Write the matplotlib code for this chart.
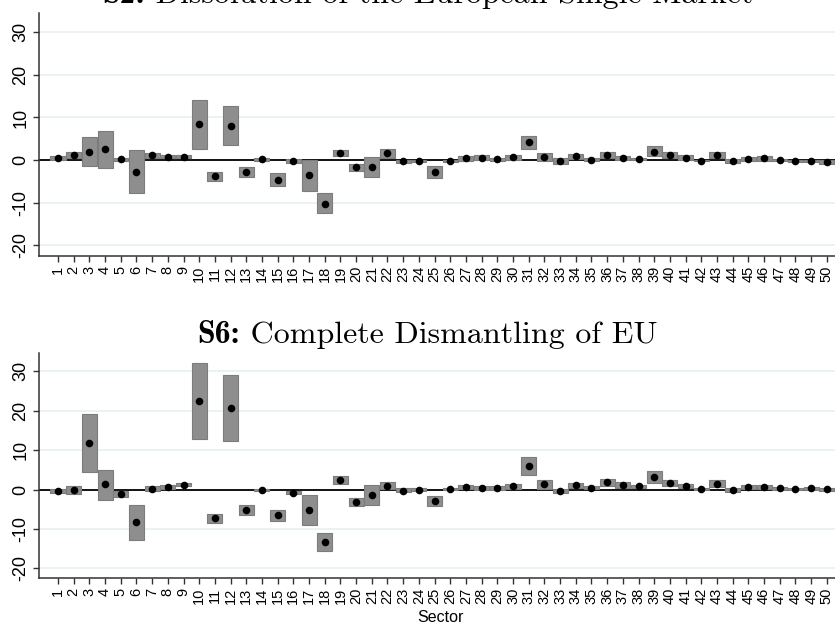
import numpy as np
import matplotlib.pyplot as plt

plt.rcParams['font.family'] = ['Liberation Sans', 'DejaVu Sans']

sectors = np.arange(1, 51)

# S2: point estimate and interval bounds per sector
est_s2 = [0.5, 1.2, 1.9, 2.5, 0.25, -2.8, 1.2, 0.8, 0.8, 8.4,
          -3.8, 8.1, -2.8, 0.3, -4.6, -0.2, -3.6, -10.2, 1.7, -1.6,
          -1.7, 1.7, -0.3, -0.2, -2.9, -0.2, 0.5, 0.6, 0.25, 0.65,
          4.15, 0.7, -0.2, 0.9, 0.1, 1.2, 0.5, 0.25, 2.0, 1.2,
          0.55, -0.1, 1.2, -0.15, 0.25, 0.4, 0.0, -0.2, -0.15, -0.45]
lo_s2 = [0.0, 0.5, -1.4, -1.9, -0.3, -7.7, 0.6, 0.5, 0.5, 2.7,
         -5.0, 3.6, -3.9, -0.15, -6.1, -0.6, -7.2, -12.5, 0.9, -2.5,
         -4.0, 0.6, -0.7, -0.4, -4.1, -0.4, -0.15, 0.0, -0.15, 0.1,
         2.5, -0.3, -0.9, 0.3, -0.2, 0.5, 0.1, 0.0, 0.9, 0.5,
         0.0, -0.3, 0.5, -0.6, -0.15, -0.15, -0.2, -0.4, -0.35, -0.9]
hi_s2 = [0.9, 1.9, 5.5, 6.9, 0.6, 2.4, 1.7, 1.1, 1.1, 14.2,
         -2.8, 12.8, -1.6, 0.6, -3.1, 0.15, 0.1, -7.8, 2.4, -0.9,
         0.7, 2.6, 0.0, 0.0, -1.3, 0.0, 1.0, 1.1, 0.6, 1.2,
         5.7, 1.7, 0.4, 1.4, 0.4, 1.9, 1.0, 0.6, 3.4, 2.0,
         1.1, 0.1, 1.9, 0.2, 0.8, 0.9, 0.2, 0.0, 0.05, 0.1]

# S6: point estimate and interval bounds per sector
est_s6 = [-0.35, 0.0, 11.9, 1.35, -1.1, -8.2, 0.25, 0.65, 1.2, 22.3,
          -7.3, 20.6, -5.2, -0.1, -6.5, -0.85, -5.1, -13.3, 2.3, -3.1,
          -1.4, 0.95, -0.3, 0.0, -2.85, 0.2, 0.7, 0.5, 0.5, 0.8,
          6.0, 1.3, -0.4, 1.1, 0.5, 1.85, 1.1, 0.8, 3.1, 1.7,
          1.0, 0.15, 1.5, 0.0, 0.6, 0.6, 0.35, 0.1, 0.35, 0.1]
lo_s6 = [-0.9, -1.1, 4.5, -2.55, -1.8, -12.7, -0.35, 0.1, 0.8, 12.7,
         -8.4, 12.2, -6.5, -0.3, -7.9, -1.1, -9.0, -15.6, 1.3, -4.3,
         -3.9, 0.1, -0.75, -0.3, -4.15, -0.1, 0.15, 0.0, 0.0, 0.25,
         3.6, 0.15, -1.0, 0.5, 0.1, 0.9, 0.4, 0.4, 1.6, 0.85,
         0.4, -0.1, 0.6, -0.6, 0.1, 0.1, 0.0, -0.2, 0.0, -0.3]
hi_s6 = [0.25, 1.0, 19.1, 4.9, -0.5, -3.8, 0.9, 1.25, 1.6, 32.1,
         -6.1, 29.1, -3.8, 0.15, -5.1, -0.35, -1.3, -11.0, 3.3, -2.2,
         1.15, 1.85, 0.35, 0.3, -1.6, 0.4, 1.25, 1.0, 1.0, 1.4,
         8.3, 2.3, 0.15, 1.6, 0.8, 2.7, 1.8, 1.1, 4.8, 2.4,
         1.5, 0.4, 2.4, 0.5, 1.1, 1.1, 0.7, 0.4, 0.6, 0.45]

yticks = [-20, -10, 0, 10, 20, 30]


def draw_panel(ax, est, lo, hi):
    lo = np.array(lo)
    hi = np.array(hi)
    for y in yticks:
        ax.axhline(y, color='#e8f0f1', lw=1.2, zorder=0)
    ax.axhline(0, color='black', lw=1.3, zorder=1)
    ax.bar(sectors, hi - lo, bottom=lo, width=0.96, color='#8e8e8e',
           edgecolor='#7c7c7c', linewidth=0.8, zorder=2)
    ax.scatter(sectors, est, s=30, color='black', zorder=3, linewidths=0)
    ax.set_xlim(-0.21, 50.52)
    ax.set_ylim(-22.5, 34.5)
    ax.set_yticks(yticks)
    ax.set_yticklabels([str(v) for v in yticks], rotation=90, va='center',
                       fontsize=13)
    ax.set_xticks(sectors)
    ax.set_xticklabels([str(s) for s in sectors], rotation=90, fontsize=10.5)
    ax.tick_params(length=4.5, width=1, color='#333333', pad=2.5)
    for side in ['top', 'right']:
        ax.spines[side].set_visible(False)
    for side in ['left', 'bottom']:
        ax.spines[side].set_color('#333333')
        ax.spines[side].set_linewidth(1.1)


def panel_title(fig, bold, rest, xc, y, size=23):
    # bold scenario tag followed by the description, centred as one line
    renderer = fig.canvas.get_renderer()
    t1 = fig.text(0, y, bold, fontfamily='cmb10', fontsize=size,
                  va='baseline', ha='left')
    t2 = fig.text(0, y, ' ' + rest, fontfamily='cmr10', fontsize=size,
                  va='baseline', ha='left')
    w1 = t1.get_window_extent(renderer).width
    w2 = t2.get_window_extent(renderer).width
    W = fig.bbox.width
    x0 = xc - (w1 + w2) / 2 / W
    t1.set_x(x0)
    t2.set_x(x0 + w1 / W)


fig = plt.figure(figsize=(8.35, 6.24), dpi=100)
ax1 = fig.add_axes([0.0467, 0.5897, 0.9533, 0.3894])
ax2 = fig.add_axes([0.0467, 0.0732, 0.9533, 0.3606])

draw_panel(ax1, est_s2, lo_s2, hi_s2)
draw_panel(ax2, est_s6, lo_s6, hi_s6)

panel_title(fig, 'S2:', 'Dissolution of the European Single Market',
            0.512, 0.9952)
panel_title(fig, 'S6:', 'Complete Dismantling of EU', 0.512, 0.4503)
fig.text(0.528, 0.003, 'Sector', ha='center', va='baseline', fontsize=11.5)

fig.savefig('out.png', dpi=100)
